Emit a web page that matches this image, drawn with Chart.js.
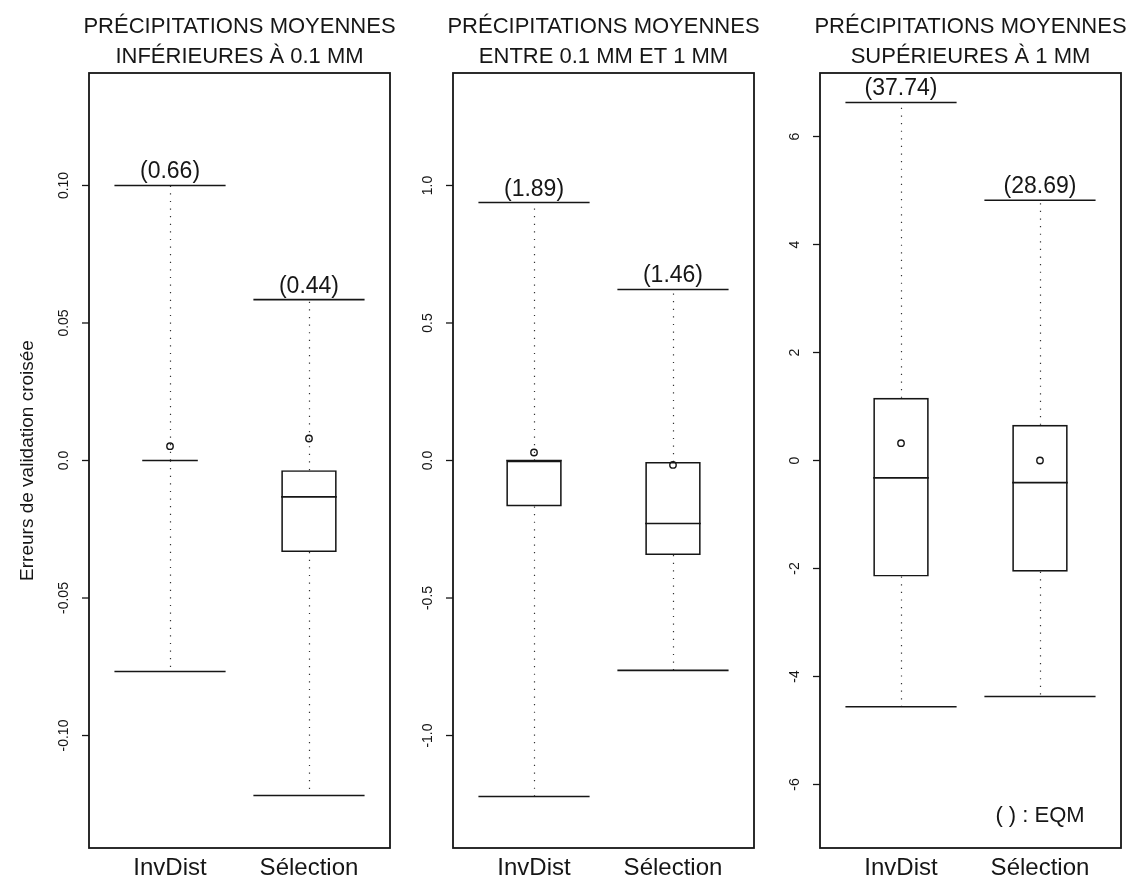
<!DOCTYPE html>
<html lang="fr">
<head>
<meta charset="utf-8">
<title>Erreurs de validation croisée</title>
<script src="https://cdn.jsdelivr.net/npm/chart.js@4"></script>
<style>
  html, body { margin: 0; padding: 0; background: #fff; }
  #wrap { position: relative; width: 1140px; height: 883px; overflow: hidden; }
  #wrap canvas { position: absolute; left: 0; top: 0; }
</style>
</head>
<body>
<div id="wrap">
  <canvas id="low" width="1140" height="883"></canvas>
  <canvas id="mid" width="1140" height="883"></canvas>
  <canvas id="high" width="1140" height="883"></canvas>
</div>
<script>
// Groups compared in every panel and their positions on the x axis
const groups = ['InvDist', 'Sélection'];
const groupPos = [1, 2];
const yAxisTitle = 'Erreurs de validation croisée';
const eqmNote = '( ) : EQM';

// Mean precipitation below 0.1 mm
const lowTitle = ['PRÉCIPITATIONS MOYENNES', 'INFÉRIEURES À 0.1 MM'];
const lowTicks = [-0.10, -0.05, 0, 0.05, 0.10];
const lowTickLabels = ['-0.10', '-0.05', '0.0', '0.05', '0.10'];
const lowRange = [-0.1409, 0.1409];
const lowMin = [-0.0767, -0.1218];
const lowQ1 = [0, -0.0333];
const lowMedian = [0, -0.0132];
const lowQ3 = [0, -0.0035];
const lowMax = [0.100, 0.0585];
const lowMean = [0.0052, 0.0080];
const lowEqm = [0.66, 0.44];

// Mean precipitation between 0.1 mm and 1 mm
const midTitle = ['PRÉCIPITATIONS MOYENNES', 'ENTRE 0.1 MM ET 1 MM'];
const midTicks = [-1.0, -0.5, 0, 0.5, 1.0];
const midTickLabels = ['-1.0', '-0.5', '0.0', '0.5', '1.0'];
const midRange = [-1.409, 1.409];
const midMin = [-1.222, -0.763];
const midQ1 = [-0.167, -0.344];
const midMedian = [0, -0.229];
const midQ3 = [0, -0.005];
const midMax = [0.938, 0.622];
const midMean = [0.029, -0.016];
const midEqm = [1.89, 1.46];

// Mean precipitation above 1 mm
const highTitle = ['PRÉCIPITATIONS MOYENNES', 'SUPÉRIEURES À 1 MM'];
const highTicks = [-6, -4, -2, 0, 2, 4, 6];
const highTickLabels = ['-6', '-4', '-2', '0', '2', '4', '6'];
const highRange = [-7.176, 7.176];
const highMin = [-4.56, -4.37];
const highQ1 = [-2.15, -2.06];
const highMedian = [-0.32, -0.41];
const highQ3 = [1.16, 0.66];
const highMax = [6.63, 4.82];
const highMean = [0.32, 0.0];
const highEqm = [37.74, 28.69];

const FONT = '"Liberation Sans", Arial, Helvetica, sans-serif';
const INK = '#161616';
const X_RANGE = [0.417, 2.583];
const BOX_HALF = 0.2;
const CAP_HALF = 0.4;

function makeDecor(p) {
  return {
    id: 'boxDecor',
    beforeDatasetsDraw(chart) {
      const { ctx, scales: { x, y } } = chart;
      ctx.save();
      ctx.strokeStyle = '#333';
      ctx.lineWidth = 1.2;
      ctx.setLineDash([1.2, 6.4]);
      p.pos.forEach((g, i) => {
        const px = Math.round(x.getPixelForValue(g)) + 0.5;
        [[p.q3[i], p.max[i]], [p.q1[i], p.min[i]]].forEach(([from, to]) => {
          ctx.beginPath();
          ctx.moveTo(px, y.getPixelForValue(from));
          ctx.lineTo(px, y.getPixelForValue(to));
          ctx.stroke();
        });
      });
      ctx.restore();
    },
    afterDatasetsDraw(chart) {
      const { ctx, chartArea: a, scales: { x, y } } = chart;
      ctx.save();
      ctx.strokeStyle = INK;
      ctx.fillStyle = INK;

      // caps at the whisker ends and median lines
      p.pos.forEach((g, i) => {
        ctx.lineWidth = 1.6;
        [p.min[i], p.max[i]].forEach(v => {
          const py = y.getPixelForValue(v);
          ctx.beginPath();
          ctx.moveTo(x.getPixelForValue(g - CAP_HALF), py);
          ctx.lineTo(x.getPixelForValue(g + CAP_HALF), py);
          ctx.stroke();
        });
        ctx.lineWidth = 1.7;
        const my = y.getPixelForValue(p.median[i]);
        ctx.beginPath();
        ctx.moveTo(x.getPixelForValue(g - BOX_HALF), my);
        ctx.lineTo(x.getPixelForValue(g + BOX_HALF), my);
        ctx.stroke();

        // RMSE written above the upper cap
        ctx.font = '23px ' + FONT;
        ctx.textAlign = 'center';
        ctx.textBaseline = 'alphabetic';
        ctx.fillText('(' + p.eqm[i].toFixed(2) + ')', x.getPixelForValue(g), y.getPixelForValue(p.max[i]) - 7);

        // group name under the frame
        ctx.font = '24px ' + FONT;
        ctx.fillText(groups[i], x.getPixelForValue(g), a.bottom + 27);
      });

      // frame
      ctx.lineWidth = 1.8;
      ctx.strokeRect(a.left, a.top, a.right - a.left, a.bottom - a.top);

      // y ticks with vertical labels
      ctx.lineWidth = 1.3;
      ctx.font = '14px ' + FONT;
      ctx.textAlign = 'center';
      ctx.textBaseline = 'middle';
      p.ticks.forEach((v, i) => {
        const py = y.getPixelForValue(v);
        ctx.beginPath();
        ctx.moveTo(a.left - 7, py);
        ctx.lineTo(a.left, py);
        ctx.stroke();
        ctx.save();
        ctx.translate(a.left - 25, py);
        ctx.rotate(-Math.PI / 2);
        ctx.fillText(p.tickLabels[i], 0, 0);
        ctx.restore();
      });

      // two-line title centred over the frame
      const cx = (a.left + a.right) / 2;
      ctx.font = '22px ' + FONT;
      ctx.textAlign = 'center';
      ctx.textBaseline = 'alphabetic';
      ctx.fillText(p.title[0], cx, 33);
      ctx.fillText(p.title[1], cx, 63);

      if (p.yTitle) {
        ctx.save();
        ctx.font = '19px ' + FONT;
        ctx.translate(33, (a.top + a.bottom) / 2);
        ctx.rotate(-Math.PI / 2);
        ctx.fillText(p.yTitle, 0, 0);
        ctx.restore();
      }
      if (p.note) {
        ctx.font = '22px ' + FONT;
        ctx.textAlign = 'center';
        ctx.fillText(p.note, x.getPixelForValue(2), 822);
      }
      ctx.restore();
    }
  };
}

function drawPanel(id, p, frameLeft, frameRight) {
  new Chart(document.getElementById(id), {
    type: 'bar',
    data: {
      datasets: [
        {
          type: 'scatter',
          order: 0,
          data: p.pos.map((g, i) => ({ x: g, y: p.mean[i] })),
          pointStyle: 'circle',
          pointRadius: 3.2,
          pointBorderWidth: 1.4,
          pointBorderColor: INK,
          pointBackgroundColor: 'rgba(0,0,0,0)'
        },
        {
          type: 'bar',
          order: 1,
          data: p.pos.map((g, i) => ({ x: g, y: [p.q1[i], p.q3[i]] })),
          backgroundColor: 'rgba(0,0,0,0)',
          borderColor: INK,
          borderWidth: 1.7,
          borderSkipped: false,
          barPercentage: BOX_HALF * 2,
          categoryPercentage: 1
        }
      ]
    },
    options: {
      responsive: false,
      animation: false,
      events: [],
      layout: { padding: { left: frameLeft, right: 1140 - frameRight, top: 73, bottom: 35 } },
      plugins: { legend: { display: false }, tooltip: { enabled: false }, title: { display: false } },
      scales: {
        x: {
          type: 'linear', display: false, bounds: 'data', offset: false,
          min: X_RANGE[0], max: X_RANGE[1],
          afterBuildTicks: s => { s.ticks = p.pos.map(v => ({ value: v })); }
        },
        y: {
          type: 'linear', display: false, bounds: 'data',
          min: p.range[0], max: p.range[1],
          afterBuildTicks: s => { s.ticks = p.ticks.map(v => ({ value: v })); }
        }
      }
    },
    plugins: [makeDecor(p)]
  });
}

drawPanel('low', {
  title: lowTitle, ticks: lowTicks, tickLabels: lowTickLabels, range: lowRange, pos: groupPos,
  min: lowMin, q1: lowQ1, median: lowMedian, q3: lowQ3, max: lowMax, mean: lowMean, eqm: lowEqm,
  yTitle: yAxisTitle
}, 89, 390);

drawPanel('mid', {
  title: midTitle, ticks: midTicks, tickLabels: midTickLabels, range: midRange, pos: groupPos,
  min: midMin, q1: midQ1, median: midMedian, q3: midQ3, max: midMax, mean: midMean, eqm: midEqm
}, 453, 754);

drawPanel('high', {
  title: highTitle, ticks: highTicks, tickLabels: highTickLabels, range: highRange, pos: groupPos,
  min: highMin, q1: highQ1, median: highMedian, q3: highQ3, max: highMax, mean: highMean, eqm: highEqm,
  note: eqmNote
}, 820, 1121);
</script>
</body>
</html>
